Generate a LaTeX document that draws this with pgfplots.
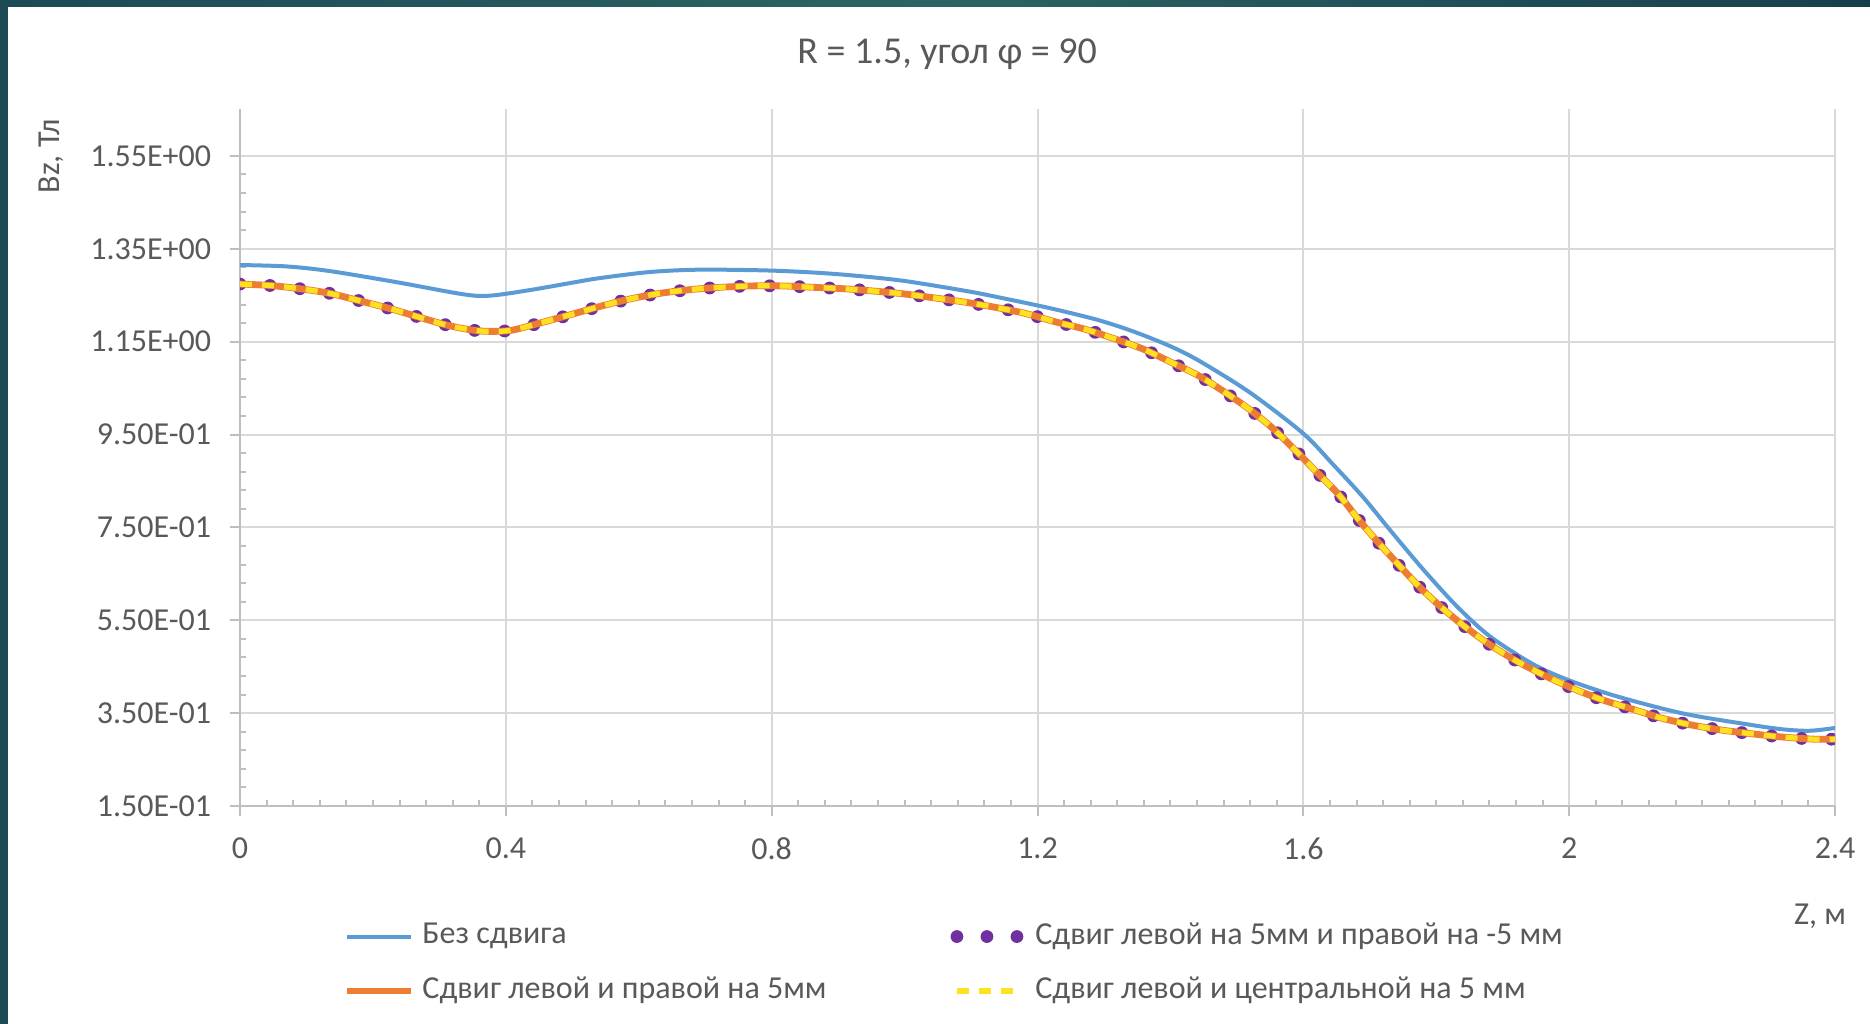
\documentclass[border=0pt]{standalone}
\usepackage{fontspec}
\setmainfont{Carlito}
\usepackage{pgfplots}
\usepackage{pgfplotstable}
\pgfplotsset{compat=1.18}

\definecolor{txt}{HTML}{595959}
\definecolor{gridc}{HTML}{D9D9D9}
\definecolor{axc}{HTML}{BFBFBF}
\definecolor{sblue}{HTML}{5B9BD5}
\definecolor{sorange}{HTML}{ED7D31}
\definecolor{spurple}{HTML}{7030A0}
\definecolor{syellow}{HTML}{FFE21F}
\definecolor{framedark}{HTML}{1C4A55}
\definecolor{framemid}{HTML}{2C6464}
\definecolor{frameright}{HTML}{163F4E}

% Bz без сдвига
\pgfplotstableread{
z bz
0     1.315
0.070 1.312
0.135 1.302
0.236 1.278
0.336 1.252
0.376 1.249
0.436 1.261
0.500 1.277
0.542 1.287
0.617 1.300
0.692 1.305
0.800 1.303
0.893 1.296
0.993 1.282
1.093 1.259
1.143 1.245
1.219 1.222
1.290 1.197
1.344 1.172
1.400 1.140
1.444 1.108
1.520 1.040
1.600 0.952
1.645 0.885
1.690 0.815
1.730 0.745
1.780 0.660
1.831 0.580
1.881 0.515
1.946 0.455
2.001 0.420
2.072 0.386
2.172 0.349
2.272 0.325
2.322 0.315
2.362 0.312
2.400 0.318
}\nosdvig

% shifted variants -- the three curves overlap almost exactly
\pgfplotstableread{
z bz
0     1.274
0.045 1.271
0.090 1.264
0.135 1.254
0.180 1.238
0.226 1.221
0.271 1.202
0.316 1.184
0.361 1.173
0.406 1.174
0.451 1.190
0.497 1.208
0.542 1.226
0.587 1.242
0.632 1.254
0.677 1.262
0.722 1.267
0.770 1.270
0.815 1.270
0.863 1.267
0.908 1.264
0.953 1.259
0.998 1.253
1.046 1.244
1.091 1.235
1.136 1.224
1.184 1.210
1.226 1.193
1.271 1.177
1.314 1.157
1.359 1.134
1.399 1.107
1.442 1.077
1.482 1.041
1.520 1.003
1.555 0.962
1.590 0.913
1.620 0.869
1.653 0.821
1.683 0.767
1.713 0.717
1.743 0.670
1.776 0.620
1.810 0.575
1.845 0.534
1.882 0.496
1.921 0.462
1.963 0.431
2.004 0.404
2.049 0.379
2.092 0.360
2.137 0.340
2.182 0.325
2.227 0.314
2.272 0.306
2.317 0.299
2.367 0.294
2.400 0.294
}\sdvig

\begin{document}
\begin{tikzpicture}
% slide background and frame
\fill[white] (0,0) rectangle (467.5pt,256pt);
\fill[framedark] (0,0) rectangle (1.9pt,256pt);
\shade[left color=framedark, right color=frameright, middle color=framemid]
  (0,254.25pt) rectangle (467.5pt,256pt);

\begin{axis}[
    at={(60pt,54.5pt)}, anchor=south west,
    scale only axis,
    width=398.75pt, height=174.125pt,
    xmin=0, xmax=2.4,
    ymin=0.15, ymax=1.65,
    axis x line*=bottom, axis y line*=left,
    axis line style={axc, line width=0.5pt},
    xtick={0,0.4,0.8,1.2,1.6,2,2.4},
    xticklabels={0,0.4,0.8,1.2,1.6,2,2.4},
    ytick={0.15,0.35,0.55,0.75,0.95,1.15,1.35,1.55},
    yticklabels={1.50E-01,3.50E-01,5.50E-01,7.50E-01,9.50E-01,1.15E+00,1.35E+00,1.55E+00},
    minor x tick num=9,
    minor y tick num=4,
    tick align=outside,
    major tick length=2.5pt,
    minor tick length=1.5pt,
    every tick/.style={axc, line width=0.5pt},
    every minor x tick/.append style={yshift=1.5pt},
    every minor y tick/.append style={xshift=1.5pt},
    grid=major,
    major grid style={gridc, line width=0.5pt},
    tick label style={text=txt, font=\fontsize{8}{9.6}\selectfont},
    yticklabel style={xshift=-1.2pt},
    xticklabel style={yshift=-2pt},
    legend columns=2,
    legend cell align=left,
    legend image code/.code={\draw[#1] (0pt,0pt) -- (16pt,0pt);},
    legend style={
        at={(axis description cs:0.0645,-0.155)}, anchor=north west,
        draw=none, fill=none, inner sep=0pt,
        font=\fontsize{8}{9.6}\selectfont, text=txt,
        row sep=2.7pt,
        /tikz/every even column/.append style={column sep=29pt},
    },
]
\addplot[sblue, line width=1pt, smooth] table[x=z, y=bz] {\nosdvig};
\addlegendentry{Без сдвига}
\addplot[spurple, line width=3.2pt, line cap=round, dash pattern=on 0pt off 7.5pt, smooth] table[x=z, y=bz] {\sdvig};
\addlegendentry{Сдвиг левой на 5мм и правой на -5 мм}
\addplot[sorange, line width=1.7pt, smooth] table[x=z, y=bz] {\sdvig};
\addlegendentry{Сдвиг левой и правой на 5мм}
\addplot[syellow, line width=1.3pt, dash pattern=on 3pt off 2.5pt, smooth] table[x=z, y=bz] {\sdvig};
\addlegendentry{Сдвиг левой и центральной на 5 мм}
\end{axis}

\node[text=txt, font=\fontsize{9.5}{11.5}\selectfont] at (236.8pt,242.5pt) {R = 1.5, угол φ = 90};
\node[text=txt, font=\fontsize{8}{9.6}\selectfont, rotate=90] at (12.8pt,217pt) {Bz, Тл};
\node[text=txt, font=\fontsize{8}{9.6}\selectfont, anchor=east] at (465pt,27pt) {Z, м};

\pgfresetboundingbox
\path (0,0) rectangle (467.5pt,256pt);
\end{tikzpicture}
\end{document}
